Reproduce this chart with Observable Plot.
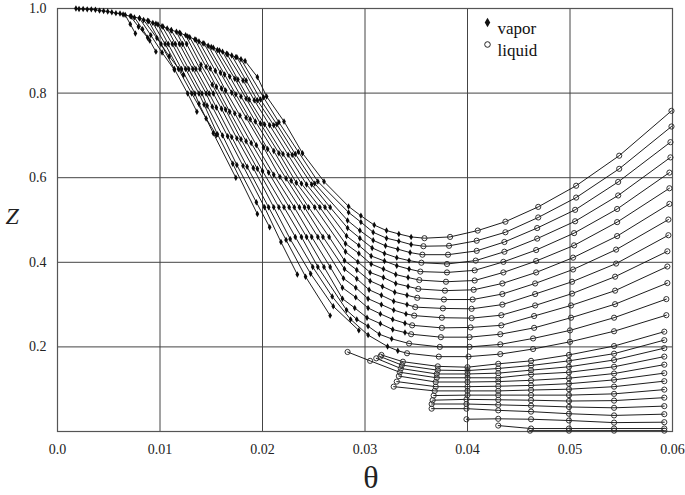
<!DOCTYPE html>
<html><head><meta charset="utf-8">
<script src="https://cdn.jsdelivr.net/npm/d3@7"></script>
<script src="https://cdn.jsdelivr.net/npm/@observablehq/plot@0.6"></script>
<style>body{margin:0;background:#fff}</style>
</head><body><div id="chart"></div>
<script>
const xTicks = [0, 0.01, 0.02, 0.03, 0.04, 0.05, 0.06];
const yTicks = [0.2, 0.4, 0.6, 0.8, 1.0];
const legendLabels = ["vapor", "liquid"];

// curves S1..S14 (continuous): vapor (diamond) part
const superVapor = [
 [[0.0018,1.000],[0.0021,0.999],[0.0025,0.999],[0.0029,0.998],[0.0033,0.998],[0.0037,0.997],[0.0041,0.995],[0.0045,0.994],[0.0049,0.993],[0.0053,0.991],[0.0057,0.989],[0.0061,0.988],[0.0064,0.986],[0.0072,0.981],[0.0080,0.977],[0.0088,0.971],[0.0096,0.964],[0.0103,0.957],[0.0111,0.949],[0.0119,0.943],[0.0127,0.934],[0.0135,0.926],[0.0142,0.918],[0.0150,0.909],[0.0158,0.901],[0.0166,0.892],[0.0174,0.885],[0.0183,0.876],[0.0195,0.838],[0.0204,0.792],[0.0221,0.733],[0.0239,0.658],[0.0260,0.591],[0.0284,0.532],[0.0296,0.510],[0.0309,0.488],[0.0321,0.475],[0.0333,0.467],[0.0345,0.460]],
 [[0.0179,0.880],[0.0201,0.790],[0.0216,0.731],[0.0235,0.661],[0.0254,0.591],[0.0284,0.518],[0.0296,0.495],[0.0308,0.471],[0.0321,0.457],[0.0333,0.450],[0.0345,0.442]],
 [[0.0175,0.885],[0.0198,0.785],[0.0214,0.726],[0.0232,0.656],[0.0251,0.586],[0.0283,0.499],[0.0295,0.475],[0.0308,0.452],[0.0320,0.439],[0.0332,0.431],[0.0344,0.423]],
 [[0.0170,0.889],[0.0184,0.830],[0.0195,0.783],[0.0211,0.724],[0.0229,0.654],[0.0248,0.584],[0.0266,0.530],[0.0283,0.481],[0.0295,0.457],[0.0307,0.434],[0.0319,0.421],[0.0331,0.411],[0.0343,0.404]],
 [[0.0165,0.893],[0.0181,0.830],[0.0192,0.783],[0.0207,0.724],[0.0225,0.654],[0.0243,0.584],[0.0261,0.530],[0.0282,0.462],[0.0294,0.440],[0.0306,0.415],[0.0319,0.403],[0.0331,0.392],[0.0343,0.384]],
 [[0.0161,0.898],[0.0176,0.832],[0.0187,0.785],[0.0202,0.726],[0.0220,0.656],[0.0238,0.586],[0.0256,0.530],[0.0281,0.444],[0.0294,0.421],[0.0306,0.396],[0.0318,0.384],[0.0330,0.371],[0.0342,0.364]],
 [[0.0156,0.902],[0.0173,0.834],[0.0184,0.787],[0.0198,0.728],[0.0216,0.658],[0.0233,0.588],[0.0251,0.530],[0.0281,0.425],[0.0293,0.401],[0.0305,0.376],[0.0318,0.364],[0.0330,0.350],[0.0342,0.343]],
 [[0.0152,0.907],[0.0168,0.839],[0.0179,0.792],[0.0193,0.733],[0.0211,0.663],[0.0228,0.593],[0.0245,0.530],[0.0265,0.460],[0.0280,0.404],[0.0292,0.382],[0.0305,0.356],[0.0317,0.343],[0.0329,0.329],[0.0341,0.322]],
 [[0.0147,0.912],[0.0163,0.844],[0.0174,0.797],[0.0188,0.738],[0.0205,0.668],[0.0223,0.598],[0.0241,0.530],[0.0259,0.460],[0.0280,0.384],[0.0292,0.361],[0.0304,0.335],[0.0316,0.322],[0.0328,0.308],[0.0341,0.300]],
 [[0.0143,0.917],[0.0159,0.848],[0.0170,0.801],[0.0184,0.742],[0.0201,0.672],[0.0217,0.602],[0.0236,0.530],[0.0254,0.460],[0.0279,0.362],[0.0291,0.340],[0.0303,0.314],[0.0316,0.300],[0.0328,0.287],[0.0340,0.278]],
 [[0.0138,0.922],[0.0154,0.853],[0.0164,0.806],[0.0178,0.747],[0.0194,0.677],[0.0211,0.607],[0.0231,0.530],[0.0248,0.460],[0.0266,0.389],[0.0278,0.340],[0.0291,0.317],[0.0303,0.292],[0.0315,0.278],[0.0327,0.265],[0.0339,0.256]],
 [[0.0134,0.927],[0.0149,0.858],[0.0160,0.811],[0.0173,0.752],[0.0189,0.682],[0.0206,0.612],[0.0226,0.530],[0.0243,0.460],[0.0260,0.389],[0.0278,0.314],[0.0290,0.292],[0.0302,0.269],[0.0315,0.255],[0.0327,0.241],[0.0339,0.234]],
 [[0.0129,0.932],[0.0145,0.862],[0.0155,0.815],[0.0168,0.756],[0.0184,0.686],[0.0200,0.616],[0.0221,0.530],[0.0238,0.460],[0.0254,0.389],[0.0282,0.287],[0.0292,0.265],[0.0303,0.249],[0.0314,0.230],[0.0326,0.219]],
 [[0.0125,0.937],[0.0140,0.867],[0.0151,0.820],[0.0164,0.761],[0.0179,0.691],[0.0195,0.621],[0.0216,0.530],[0.0232,0.460],[0.0249,0.389],[0.0268,0.319],[0.0286,0.265],[0.0303,0.228],[0.0322,0.201],[0.0332,0.191]]
];

// liquid (circle) columns of S1..S14, one array per column
const liquidColTheta = [
 [0.0358,0.0357,0.0356,0.0355,0.0354,0.0353,0.0352,0.0351,0.0349,0.0348,0.0346,0.0345,0.0343,0.0341],
 [0.0383,0.0382,0.0381,0.0380,0.0380,0.0379,0.0378,0.0377,0.0376,0.0375,0.0375,0.0374,0.0373,0.0372],
 [0.0410,0.0409,0.0409,0.0408,0.0407,0.0407,0.0406,0.0405,0.0404,0.0404,0.0403,0.0402,0.0402,0.0401],
 [0.0437,0.0437,0.0436,0.0436,0.0435,0.0435,0.0434,0.0434,0.0434,0.0433,0.0433,0.0432,0.0432,0.0432],
 [0.0469,0.0469,0.0468,0.0468,0.0467,0.0467,0.0467,0.0466,0.0466,0.0466,0.0465,0.0465,0.0464,0.0464],
 [0.0506,0.0506,0.0505,0.0505,0.0504,0.0504,0.0503,0.0503,0.0502,0.0502,0.0501,0.0501,0.0500,0.0500],
 [0.0548,0.0548,0.0547,0.0547,0.0546,0.0546,0.0546,0.0545,0.0545,0.0544,0.0544,0.0544,0.0543,0.0543],
 [0.0599,0.0599,0.0598,0.0598,0.0597,0.0597,0.0597,0.0596,0.0596,0.0595,0.0595,0.0595,0.0594,0.0594]
];
const liquidColZ = [
 [0.457,0.438,0.418,0.399,0.378,0.358,0.337,0.316,0.294,0.274,0.251,0.230,0.208,0.185],
 [0.460,0.439,0.418,0.396,0.376,0.354,0.333,0.312,0.291,0.269,0.245,0.223,0.200,0.177],
 [0.475,0.451,0.427,0.404,0.381,0.357,0.335,0.312,0.290,0.268,0.246,0.223,0.200,0.177],
 [0.496,0.471,0.448,0.425,0.401,0.376,0.350,0.325,0.300,0.275,0.251,0.230,0.206,0.183],
 [0.531,0.506,0.481,0.456,0.429,0.403,0.376,0.350,0.325,0.298,0.273,0.245,0.220,0.195],
 [0.581,0.553,0.524,0.497,0.469,0.440,0.411,0.383,0.354,0.326,0.298,0.269,0.239,0.212],
 [0.652,0.621,0.590,0.558,0.526,0.495,0.462,0.430,0.397,0.366,0.333,0.301,0.269,0.237],
 [0.758,0.721,0.684,0.648,0.612,0.575,0.538,0.501,0.464,0.426,0.390,0.351,0.313,0.275]
];

// vapor-only branches V1..V13 (end at dew points)
const subVapor = [
 [[0.0066,0.985],[0.0071,0.963],[0.0076,0.941]],
 [[0.0071,0.982],[0.0079,0.957],[0.0088,0.931]],
 [[0.0075,0.979],[0.0083,0.951],[0.0090,0.924],[0.0096,0.898]],
 [[0.0080,0.977],[0.0091,0.937],[0.0102,0.896],[0.0114,0.855]],
 [[0.0084,0.973],[0.0097,0.930],[0.0109,0.887],[0.0123,0.843]],
 [[0.0089,0.970],[0.0101,0.916],[0.0114,0.857],[0.0127,0.799],[0.0136,0.756]],
 [[0.0093,0.966],[0.0105,0.916],[0.0118,0.857],[0.0131,0.799],[0.0145,0.740],[0.0155,0.701]],
 [[0.0098,0.962],[0.0108,0.916],[0.0121,0.857],[0.0134,0.799],[0.0138,0.775],[0.0152,0.705],[0.0174,0.600]],
 [[0.0102,0.958],[0.0112,0.916],[0.0125,0.857],[0.0138,0.799],[0.0143,0.773],[0.0156,0.703],[0.0171,0.633],[0.0195,0.514]],
 [[0.0107,0.953],[0.0115,0.916],[0.0128,0.857],[0.0141,0.799],[0.0146,0.770],[0.0161,0.700],[0.0175,0.630],[0.0194,0.542],[0.0207,0.483]],
 [[0.0111,0.948],[0.0119,0.916],[0.0132,0.857],[0.0145,0.799],[0.0151,0.768],[0.0166,0.698],[0.0181,0.628],[0.0202,0.530],[0.0218,0.448],[0.0234,0.371]],
 [[0.0116,0.945],[0.0122,0.916],[0.0135,0.857],[0.0148,0.799],[0.0155,0.766],[0.0170,0.696],[0.0185,0.626],[0.0206,0.530],[0.0223,0.453],[0.0242,0.366],[0.0266,0.274]],
 [[0.0120,0.941],[0.0126,0.916],[0.0139,0.857],[0.0152,0.799],[0.0160,0.763],[0.0175,0.693],[0.0191,0.623],[0.0211,0.530],[0.0227,0.455],[0.0247,0.373],[0.0269,0.296],[0.0294,0.239]]
];

// liquid-only branches L0..L13 (start at bubble points)
const subLiquid = [
 [[0.0316,0.181],[0.0337,0.165],[0.0371,0.154],[0.0400,0.152],[0.0430,0.160],[0.0462,0.167],[0.0499,0.181],[0.0543,0.202],[0.0592,0.236]],
 [[0.0315,0.177],[0.0336,0.157],[0.0371,0.145],[0.0400,0.144],[0.0430,0.149],[0.0462,0.156],[0.0499,0.167],[0.0543,0.184],[0.0592,0.216]],
 [[0.0311,0.173],[0.0335,0.149],[0.0370,0.136],[0.0400,0.136],[0.0430,0.138],[0.0462,0.145],[0.0499,0.153],[0.0543,0.169],[0.0592,0.197]],
 [[0.0283,0.188],[0.0305,0.167],[0.0334,0.140],[0.0370,0.127],[0.0400,0.127],[0.0430,0.127],[0.0462,0.135],[0.0499,0.140],[0.0543,0.153],[0.0592,0.177]],
 [[0.0333,0.131],[0.0369,0.117],[0.0400,0.117],[0.0430,0.118],[0.0462,0.121],[0.0499,0.126],[0.0543,0.137],[0.0592,0.158]],
 [[0.0331,0.118],[0.0369,0.106],[0.0400,0.106],[0.0430,0.107],[0.0462,0.109],[0.0499,0.113],[0.0543,0.122],[0.0592,0.138]],
 [[0.0328,0.106],[0.0368,0.096],[0.0400,0.096],[0.0430,0.096],[0.0462,0.098],[0.0499,0.100],[0.0543,0.106],[0.0592,0.119]],
 [[0.0367,0.085],[0.0400,0.086],[0.0430,0.086],[0.0462,0.086],[0.0499,0.086],[0.0543,0.089],[0.0592,0.099]],
 [[0.0366,0.074],[0.0399,0.076],[0.0430,0.075],[0.0462,0.074],[0.0499,0.072],[0.0543,0.073],[0.0592,0.080]],
 [[0.0365,0.065],[0.0399,0.065],[0.0430,0.063],[0.0462,0.061],[0.0499,0.058],[0.0543,0.056],[0.0592,0.060]],
 [[0.0365,0.054],[0.0399,0.054],[0.0430,0.050],[0.0462,0.047],[0.0499,0.042],[0.0543,0.038],[0.0592,0.041]],
 [[0.0399,0.029],[0.0430,0.030],[0.0462,0.029],[0.0499,0.026],[0.0543,0.021],[0.0592,0.022]],
 [[0.0430,0.014],[0.0462,0.007],[0.0499,0.007],[0.0543,0.007],[0.0592,0.007]],
 [[0.0461,0.002],[0.0499,0.002],[0.0543,0.002],[0.0592,0.002]]
];

// assemble table
const rows = [];
superVapor.forEach((pts, k) => {
  pts.forEach(([t, z]) => rows.push({curve: "S" + k, theta: t, z, phase: "vapor"}));
  liquidColTheta.forEach((col, c) => rows.push({curve: "S" + k, theta: col[k], z: liquidColZ[c][k], phase: "liquid"}));
});
subVapor.forEach((pts, i) => pts.forEach(([t, z]) => rows.push({curve: "V" + i, theta: t, z, phase: "vapor"})));
subLiquid.forEach((pts, i) => pts.forEach(([t, z]) => rows.push({curve: "L" + i, theta: t, z, phase: "liquid"})));

const serif = "'Liberation Serif', 'Times New Roman', serif";
const chart = Plot.plot({
  width: 685, height: 495,
  marginLeft: 57, marginRight: 13, marginTop: 8, marginBottom: 64,
  style: {fontFamily: serif, fontSize: "14px", color: "#222", background: "#fff"},
  x: {domain: [0, 0.06], ticks: xTicks, tickFormat: d => d === 0 ? "0.0" : d.toFixed(2), tickSize: 0, tickPadding: 13, label: null},
  y: {domain: [0, 1], ticks: yTicks, tickFormat: d => d.toFixed(1), tickSize: 0, tickPadding: 11, label: null},
  marks: [
    Plot.ruleX(xTicks.slice(1, -1), {stroke: "#444", strokeWidth: 1}),
    Plot.ruleY(yTicks.slice(0, -1), {stroke: "#444", strokeWidth: 1}),
    Plot.frame({stroke: "#555", strokeWidth: 1.2}),
    Plot.line(rows, {x: "theta", y: "z", z: "curve", stroke: "#111", strokeWidth: 0.95}),
    Plot.dot(rows.filter(d => d.phase === "vapor"), {x: "theta", y: "z", symbol: "diamond", fill: "#0a0a0a", r: 1.95}),
    Plot.dot(rows.filter(d => d.phase === "liquid"), {x: "theta", y: "z", symbol: "circle", fill: "none", stroke: "#2a2a2a", strokeWidth: 0.95, r: 2.6}),
    // legend
    Plot.dot([legendLabels[0]], {frameAnchor: "top-right", dx: -185, dy: 14, symbol: "diamond", fill: "#111", r: 2.9}),
    Plot.dot([legendLabels[1]], {frameAnchor: "top-right", dx: -185, dy: 36, symbol: "circle", fill: "none", stroke: "#222", strokeWidth: 1, r: 2.8}),
    Plot.text([legendLabels[0]], {text: d => d, frameAnchor: "top-right", dx: -175, dy: 13, textAnchor: "start", fontSize: 17, fill: "#111"}),
    Plot.text([legendLabels[1]], {text: d => d, frameAnchor: "top-right", dx: -175, dy: 35, textAnchor: "start", fontSize: 17, fill: "#111"}),
    // axis titles
    Plot.text(["θ"], {text: d => d, frameAnchor: "bottom", dx: 6, dy: 56, fontSize: 32, fill: "#222"}),
    Plot.text(["Z"], {text: d => d, frameAnchor: "left", dx: -52, dy: -4, fontSize: 24, fontStyle: "italic", fill: "#222"})
  ]
});
document.getElementById("chart").appendChild(chart);
</script>
</body></html>
